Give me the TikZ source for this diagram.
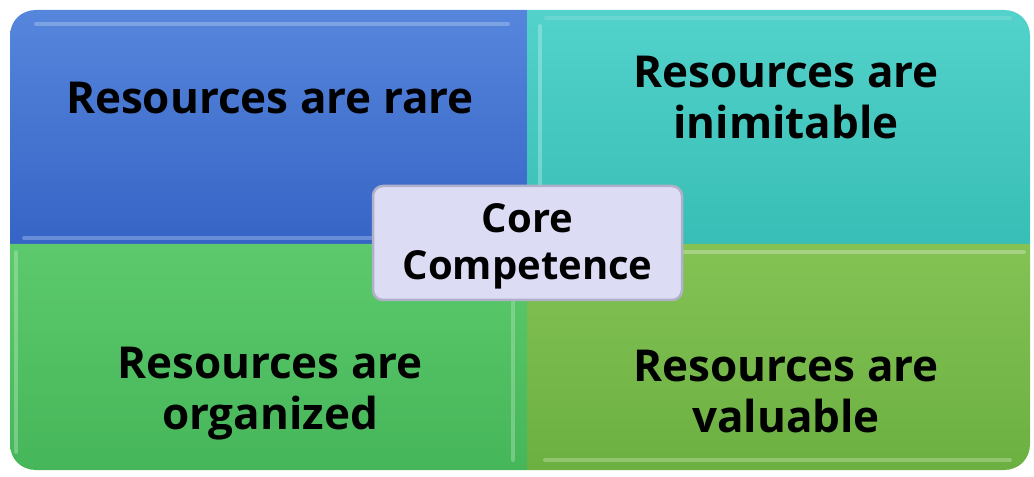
\documentclass[tikz,border=0pt]{standalone}
\usepackage{fontspec}
\setmainfont{Open Sans}[BoldFont={Open Sans Bold}]
\definecolor{blueT}{HTML}{5686DC}
\definecolor{blueB}{HTML}{3664C6}
\definecolor{tealT}{HTML}{52D2CA}
\definecolor{tealB}{HTML}{38BEB6}
\definecolor{grnT}{HTML}{5CCA6C}
\definecolor{grnB}{HTML}{46B65A}
\definecolor{oliT}{HTML}{84C254}
\definecolor{oliB}{HTML}{6CB042}
\definecolor{coreFill}{HTML}{DCDCF4}
\definecolor{coreLine}{HTML}{B0B0C8}
\tikzset{
  quadtext/.style={font=\bfseries\fontsize{44bp}{51bp}\selectfont, align=center, text=black},
  coretext/.style={font=\bfseries\fontsize{40bp}{47bp}\selectfont, align=center, text=black},
  corebox/.style={rounded corners=10bp, fill=coreFill, draw=coreLine, line width=2.5bp,
    minimum width=309bp, minimum height=114bp, inner sep=0pt},
  hilite/.style={line width=4bp, opacity=0.4, line cap=round},
}
\begin{document}
\begin{tikzpicture}[x=1bp,y=-1bp]
\useasboundingbox (0,0) rectangle (1034,477);
% top-left
\shade[top color=blueT, bottom color=blueB]
  (10,244) -- (10,36) .. controls (10,21) and (21,10) .. (36,10) -- (527,10) -- (527,244) -- cycle;
\draw[hilite, white!60!blueT] (36,24) -- (508,24);
\draw[hilite, white!55!blueT] (24,238) -- (512,238);
% top-right
\shade[top color=tealT, bottom color=tealB]
  (527,10) -- (1004,10) .. controls (1019,10) and (1030,21) .. (1030,36) -- (1030,244) -- (527,244) -- cycle;
\draw[hilite, white!65!tealT] (540,26) -- (540,236);
\draw[hilite, white!45!tealT, opacity=0.3] (546,18) -- (1010,18);
% bottom-left
\shade[top color=grnT, bottom color=grnB]
  (10,244) -- (527,244) -- (527,470) -- (36,470) .. controls (21,470) and (10,459) .. (10,444) -- cycle;
\draw[hilite, white!60!grnT] (16,252) -- (16,452);
\draw[hilite, white!55!grnT] (513,252) -- (513,460);
% bottom-right
\shade[top color=oliT, bottom color=oliB]
  (527,244) -- (1030,244) -- (1030,444) .. controls (1030,459) and (1019,470) .. (1004,470) -- (527,470) -- cycle;
\draw[hilite, white!70!oliT] (534,252) -- (1024,252);
\draw[hilite, white!55!oliT] (545,460) -- (1010,460);
% texts
\node[quadtext] (rare) at (270,98) {Resources are rare};
\node[quadtext] (inim) at (786,98) {Resources are\\inimitable};
\node[quadtext] (org) at (270,394) {Resources are\\organized};
\node[quadtext] (val) at (786,392) {Resources are\\valuable};
% center
\node[corebox] (corebg) at (527.5,243) {};
\node[coretext] (core) at (527.5,246) {Core\\Competence};
\end{tikzpicture}
\end{document}
